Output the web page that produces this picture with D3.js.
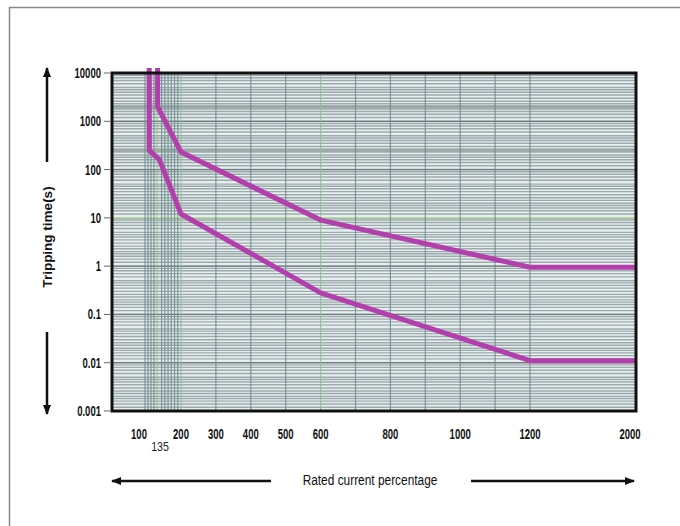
<!DOCTYPE html>
<html>
<head>
<meta charset="utf-8">
<script src="https://cdn.jsdelivr.net/npm/d3@7"></script>
<style>
  body { margin: 0; background: #fff; }
  svg { display: block; }
  .tick-label { font-family: "Liberation Sans", Arial, sans-serif; font-weight: bold; font-size: 14px; fill: #111; }
</style>
</head>
<body>
<svg id="chart"></svg>
<script>
// x tick labels (custom, non-uniform scale)
const xTicks = [100, 200, 300, 400, 500, 600, 800, 1000, 1200, 2000];
const xExtraTick = 135;
const yTicks = [10000, 1000, 100, 10, 1, 0.1, 0.01, 0.001];
const yTickLabels = ["10000", "1000", "100", "10", "1", "0.1", "0.01", "0.001"];

// vertical grid values
const xGrid = [110, 115, 120, 125, 130, 140, 150, 160, 170, 180, 190, 200, 300, 400, 500, 600, 700, 800, 900, 1000, 1100, 1200];
const xGridGreen = [130, 200, 600];
// horizontal grid subdivisions in each decade
const ySub = [1, 1.2, 1.4, 1.6, 1.8, 2, 2.3, 2.6, 3, 3.5, 4, 4.5, 5, 6, 7, 8, 9];
const yBands = [2000, 250];
const yGreen = [10];

// curves: [rated current %, tripping time s]
const upperCurve = [[131, 30000], [131, 2000], [200, 230], [600, 9], [1200, 0.95], [2060, 0.95]];
const lowerCurve = [[117, 30000], [117, 250], [134, 160], [200, 12], [600, 0.28], [1200, 0.011], [2060, 0.011]];

const width = 680, height = 526;
const pLeft = 112, pRight = 636, pTop = 73, pBottom = 411;
const squeeze = 0.68;

const svg = d3.select("#chart").attr("width", width).attr("height", height);

// outer frame
svg.append("rect").attr("x", 9.5).attr("y", 7.5).attr("width", 700).attr("height", 600)
  .attr("fill", "none").attr("stroke", "#888").attr("stroke-width", 1.5);

const x = d3.scaleLinear()
  .domain([55, 100, 135, 200, 1200, 2000, 2060])
  .range([pLeft, 139, 160, 181, 530, 630, pRight]);

const y = d3.scaleLog()
  .domain([0.001, 10000])
  .range([pBottom, pTop]);

// plot background
svg.append("rect").attr("x", pLeft).attr("y", pTop).attr("width", pRight - pLeft).attr("height", pBottom - pTop)
  .attr("fill", "#e6eef0");

const grid = svg.append("g");

// horizontal dense lines
const hLines = [];
for (let e = -3; e < 4; e++) {
  ySub.forEach(s => hLines.push(s * Math.pow(10, e)));
}
grid.selectAll("line.h").data(hLines).join("line").attr("class", "h")
  .attr("x1", pLeft).attr("x2", pRight)
  .attr("y1", d => y(d)).attr("y2", d => y(d))
  .attr("stroke", "#9daaac").attr("stroke-width", 1.4);

grid.selectAll("line.band").data(yBands).join("line").attr("class", "band")
  .attr("x1", pLeft).attr("x2", pRight)
  .attr("y1", d => y(d)).attr("y2", d => y(d))
  .attr("stroke", "#96a3a0").attr("stroke-width", 3.5).attr("opacity", 0.8);

grid.selectAll("line.major").data(yTicks).join("line").attr("class", "major")
  .attr("x1", pLeft).attr("x2", pRight)
  .attr("y1", d => y(d)).attr("y2", d => y(d))
  .attr("stroke", "#6f7b7d").attr("stroke-width", 1.3);

grid.selectAll("line.hg").data(yGreen).join("line").attr("class", "hg")
  .attr("x1", pLeft).attr("x2", pRight)
  .attr("y1", d => y(d)).attr("y2", d => y(d))
  .attr("stroke", "#b6dd9a").attr("stroke-width", 1.5);

// vertical lines
grid.selectAll("line.v").data(xGrid).join("line").attr("class", "v")
  .attr("x1", d => x(d)).attr("x2", d => x(d))
  .attr("y1", pTop).attr("y2", pBottom)
  .attr("stroke", d => xGridGreen.includes(d) ? "#8fc08f" : "#6f8c8e")
  .attr("stroke-width", 1.2).attr("opacity", 0.85);

// curves
svg.append("clipPath").attr("id", "clip").append("rect")
  .attr("x", pLeft).attr("y", pTop - 5).attr("width", pRight - pLeft).attr("height", pBottom - pTop + 5);

const line = d3.line().x(d => x(d[0])).y(d => y(d[1])).curve(d3.curveLinear);

svg.append("g").attr("clip-path", "url(#clip)")
  .selectAll("path").data([upperCurve, lowerCurve]).join("path")
  .attr("d", line)
  .attr("fill", "none").attr("stroke", "#b23fab").attr("stroke-width", 5)
  .attr("stroke-linejoin", "round");

// plot frame
svg.append("rect").attr("x", pLeft).attr("y", pTop).attr("width", pRight - pLeft).attr("height", pBottom - pTop)
  .attr("fill", "none").attr("stroke", "#111").attr("stroke-width", 3);

// y axis ticks and labels
const yAxis = svg.append("g");
yAxis.selectAll("line").data(yTicks).join("line")
  .attr("x1", 104).attr("x2", 110)
  .attr("y1", d => y(d)).attr("y2", d => y(d))
  .attr("stroke", "#666").attr("stroke-width", 1);
yAxis.selectAll("text").data(yTicks).join("text")
  .attr("class", "tick-label")
  .attr("transform", d => `translate(101,${y(d) + 5}) scale(${squeeze},1)`)
  .attr("text-anchor", "end")
  .text((d, i) => yTickLabels[i]);

// x axis labels
svg.append("g").selectAll("text").data(xTicks).join("text")
  .attr("class", "tick-label")
  .attr("transform", d => `translate(${x(d)},439) scale(${squeeze},1)`)
  .attr("text-anchor", "middle")
  .text(d => d);

svg.append("text")
  .attr("transform", `translate(${x(xExtraTick)},451) scale(0.85,1)`)
  .attr("text-anchor", "middle")
  .attr("font-family", "Liberation Sans, sans-serif")
  .attr("font-size", 12.5).attr("fill", "#222")
  .text(xExtraTick);

// arrow marker
svg.append("defs").append("marker")
  .attr("id", "arrow").attr("viewBox", "0 0 10 10")
  .attr("refX", 9).attr("refY", 5)
  .attr("markerWidth", 4).attr("markerHeight", 4).attr("orient", "auto")
  .append("path").attr("d", "M0,1 L10,5 L0,9 Z").attr("fill", "#111");

function arrow(x1, y1, x2, y2) {
  svg.append("line").attr("x1", x1).attr("y1", y1).attr("x2", x2).attr("y2", y2)
    .attr("stroke", "#111").attr("stroke-width", 2.5).attr("marker-end", "url(#arrow)");
}

// y title and arrows
svg.append("text")
  .attr("transform", "translate(52,237) rotate(-90)")
  .attr("text-anchor", "middle")
  .attr("font-family", "Liberation Sans, Arial, sans-serif")
  .attr("font-weight", "bold").attr("font-size", 13.5).attr("fill", "#111")
  .text("Tripping time(s)");
arrow(47, 162, 47, 68);
arrow(47, 332, 47, 414);

// x title and arrows
svg.append("text")
  .attr("transform", "translate(370,485) scale(0.82,1)")
  .attr("text-anchor", "middle")
  .attr("font-family", "Liberation Sans, sans-serif")
  .attr("font-size", 14.5).attr("fill", "#111")
  .text("Rated current percentage");
arrow(271, 481, 112, 481);
arrow(471, 481, 634, 481);
</script>
</body>
</html>
